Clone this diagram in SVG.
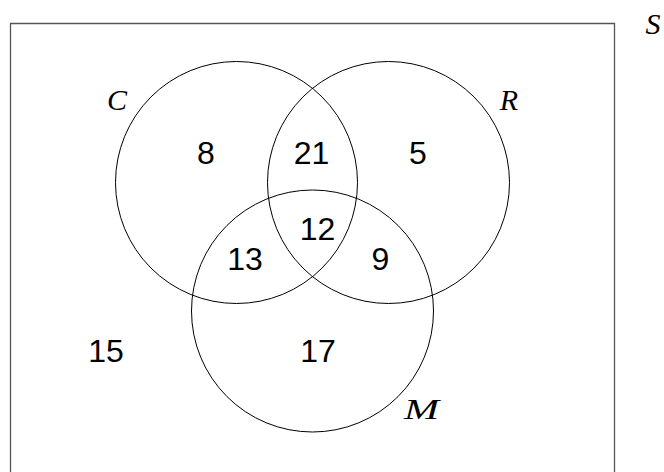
<svg xmlns="http://www.w3.org/2000/svg" width="664" height="472" viewBox="0 0 664 472">
<style>
.frame{fill:none;stroke:#555;stroke-width:1.3}
.set{fill:none;stroke:#000;stroke-width:1}
.num{font-family:"Liberation Sans",Arial,sans-serif;font-size:32px;fill:#000;text-anchor:middle}
.lbl{font-family:"Liberation Serif","Times New Roman",serif;font-style:italic;font-size:30px;fill:#000;text-anchor:middle}
</style>
<rect width="664" height="472" fill="#fff"/>
<g id="universe">
<path class="frame" d="M10.5,480 V23.5 H614.5 V480"/>
<text class="lbl" x="653" y="34">S</text>
</g>
<g id="set-C">
<circle class="set" cx="236.5" cy="182.5" r="121"/>
<text class="lbl" x="117" y="110">C</text>
</g>
<g id="set-R">
<circle class="set" cx="388.5" cy="182.5" r="121"/>
<text class="lbl" x="509" y="110">R</text>
</g>
<g id="set-M">
<circle class="set" cx="312.5" cy="311" r="121"/>
<text class="lbl" x="421.5" y="419" textLength="35" lengthAdjust="spacingAndGlyphs">M</text>
</g>
<g id="counts">
<text class="num" x="206" y="164">8</text>
<text class="num" x="311.5" y="164">21</text>
<text class="num" x="418" y="164">5</text>
<text class="num" x="317.5" y="240">12</text>
<text class="num" x="245" y="270">13</text>
<text class="num" x="380.5" y="270">9</text>
<text class="num" x="106" y="362">15</text>
<text class="num" x="318" y="362">17</text>
</g>
</svg>
